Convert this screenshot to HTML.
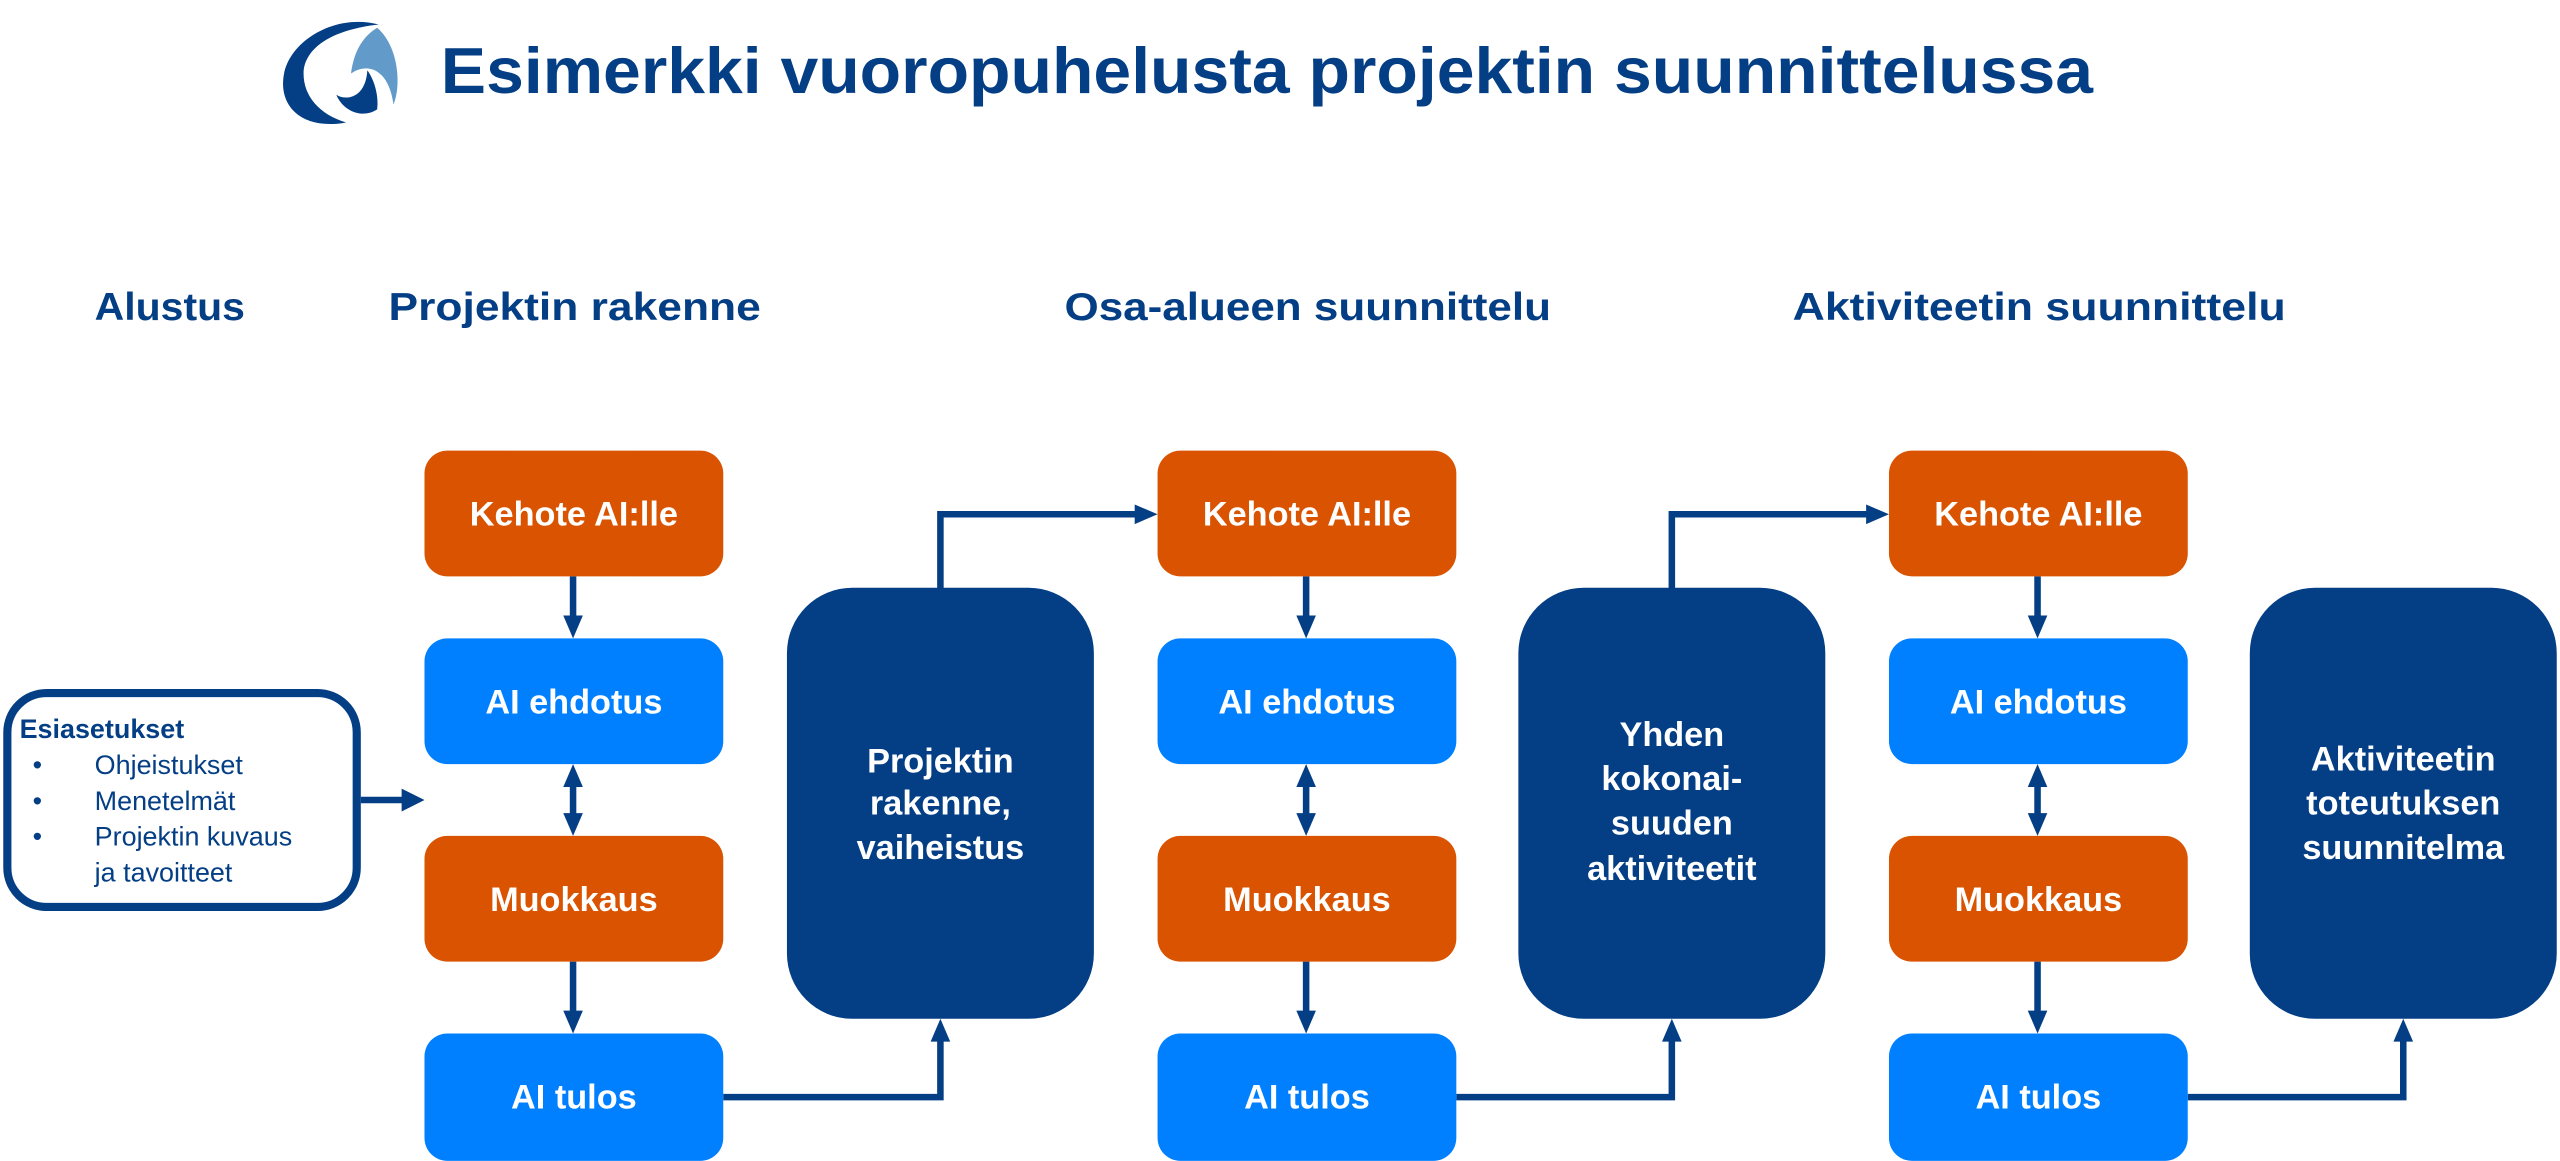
<!DOCTYPE html>
<html><head><meta charset="utf-8"><style>html,body{margin:0;padding:0;background:#fff}svg{display:block}</style></head>
<body>
<svg width="2560" height="1161" viewBox="0 0 1568 711.1" preserveAspectRatio="none" xmlns="http://www.w3.org/2000/svg" font-family="Liberation Sans, sans-serif">
<!-- logo -->
<path d="M232,15 C205,8 178,25 174,45 C170,65 185,80 212,75 C195,70 185,58 186,43 C188,28 205,18 232,15 z" fill="#043e85"/>
<path d="M215,45 C225,38 238,42 241,64 C246,52 244,28 231,17 C223,22 217,30 215,45 z" fill="#629bc9"/>
<path d="M225,43 C230,50 232,60 231,67 C222,73 210,68 206,58 C212,62 224,60 225,43 z" fill="#043e85"/>
<text x="270" y="57" font-size="40" font-weight="bold" fill="#043e85" textLength="1012" lengthAdjust="spacingAndGlyphs">Esimerkki vuoropuhelusta projektin suunnittelussa</text>
<g font-size="24" font-weight="bold" fill="#043e85">
<text x="58" y="196" textLength="92" lengthAdjust="spacingAndGlyphs">Alustus</text>
<text x="238" y="196" textLength="228" lengthAdjust="spacingAndGlyphs">Projektin rakenne</text>
<text x="652" y="196" textLength="298" lengthAdjust="spacingAndGlyphs">Osa-alueen suunnittelu</text>
<text x="1098" y="196" textLength="302" lengthAdjust="spacingAndGlyphs">Aktiviteetin suunnittelu</text>
</g>
<!-- Esiasetukset -->
<rect x="4.5" y="424.5" width="214" height="131" rx="24" fill="#fff" stroke="#043e85" stroke-width="5"/>
<g font-size="16.5" fill="#043e85">
<text x="12" y="452" font-weight="bold">Esiasetukset</text>
<text x="20" y="474">•</text><text x="58" y="474">Ohjeistukset</text>
<text x="20" y="496">•</text><text x="58" y="496">Menetelmät</text>
<text x="20" y="518">•</text><text x="58" y="518">Projektin kuvaus</text>
<text x="58" y="540">ja tavoitteet</text>
</g>
<g stroke="#043e85" stroke-width="4" fill="none">
<line x1="221" y1="490" x2="248" y2="490"/>
<line x1="351" y1="353" x2="351" y2="380"/>
<line x1="351" y1="478" x2="351" y2="502"/>
<line x1="351" y1="589" x2="351" y2="621"/>
<line x1="800" y1="353" x2="800" y2="380"/>
<line x1="800" y1="478" x2="800" y2="502"/>
<line x1="800" y1="589" x2="800" y2="621"/>
<line x1="1248" y1="353" x2="1248" y2="380"/>
<line x1="1248" y1="478" x2="1248" y2="502"/>
<line x1="1248" y1="589" x2="1248" y2="621"/>
<polyline points="443,672 576,672 576,636"/>
<polyline points="576,362 576,315 697,315"/>
<polyline points="892,672 1024,672 1024,636"/>
<polyline points="1024,362 1024,315 1145,315"/>
<polyline points="1340,672 1472,672 1472,636"/>
</g>
<g fill="#043e85">
<polygon points="246,483 260,490 246,497"/>
<polygon points="345,377 357,377 351,391"/><polygon points="345,482 357,482 351,468"/><polygon points="345,498 357,498 351,512"/><polygon points="345,619 357,619 351,633"/>
<polygon points="794,377 806,377 800,391"/><polygon points="794,482 806,482 800,468"/><polygon points="794,498 806,498 800,512"/><polygon points="794,619 806,619 800,633"/>
<polygon points="1242,377 1254,377 1248,391"/><polygon points="1242,482 1254,482 1248,468"/><polygon points="1242,498 1254,498 1248,512"/><polygon points="1242,619 1254,619 1248,633"/>
<polygon points="570,638 582,638 576,624"/><polygon points="1018,638 1030,638 1024,624"/><polygon points="1466,638 1478,638 1472,624"/>
<polygon points="695,309 709,315 695,321"/><polygon points="1143,309 1157,315 1143,321"/>
</g>
<g>
<rect x="260" y="276" width="183" height="77" rx="14" fill="#d95300"/>
<rect x="260" y="391" width="183" height="77" rx="14" fill="#0080ff"/>
<rect x="260" y="512" width="183" height="77" rx="14" fill="#d95300"/>
<rect x="260" y="633" width="183" height="78" rx="14" fill="#0080ff"/>
<rect x="709" y="276" width="183" height="77" rx="14" fill="#d95300"/>
<rect x="709" y="391" width="183" height="77" rx="14" fill="#0080ff"/>
<rect x="709" y="512" width="183" height="77" rx="14" fill="#d95300"/>
<rect x="709" y="633" width="183" height="78" rx="14" fill="#0080ff"/>
<rect x="1157" y="276" width="183" height="77" rx="14" fill="#d95300"/>
<rect x="1157" y="391" width="183" height="77" rx="14" fill="#0080ff"/>
<rect x="1157" y="512" width="183" height="77" rx="14" fill="#d95300"/>
<rect x="1157" y="633" width="183" height="78" rx="14" fill="#0080ff"/>
<rect x="482" y="360" width="188" height="264" rx="40" fill="#043e85"/>
<rect x="930" y="360" width="188" height="264" rx="40" fill="#043e85"/>
<rect x="1378" y="360" width="188" height="264" rx="40" fill="#043e85"/>
</g>
<g font-size="21" font-weight="bold" fill="#fff" text-anchor="middle">
<text x="351.5" y="322">Kehote AI:lle</text>
<text x="351.5" y="437">AI ehdotus</text>
<text x="351.5" y="558">Muokkaus</text>
<text x="351.5" y="679">AI tulos</text>
<text x="800.5" y="322">Kehote AI:lle</text>
<text x="800.5" y="437">AI ehdotus</text>
<text x="800.5" y="558">Muokkaus</text>
<text x="800.5" y="679">AI tulos</text>
<text x="1248.5" y="322">Kehote AI:lle</text>
<text x="1248.5" y="437">AI ehdotus</text>
<text x="1248.5" y="558">Muokkaus</text>
<text x="1248.5" y="679">AI tulos</text>
<text x="576" y="473">Projektin</text>
<text x="576" y="499">rakenne,</text>
<text x="576" y="526">vaiheistus</text>
<text x="1024" y="457">Yhden</text>
<text x="1024" y="484">kokonai-</text>
<text x="1024" y="511">suuden</text>
<text x="1024" y="539">aktiviteetit</text>
<text x="1472" y="472">Aktiviteetin</text>
<text x="1472" y="499">toteutuksen</text>
<text x="1472" y="526">suunnitelma</text>
</g>
</svg>
</body></html>
